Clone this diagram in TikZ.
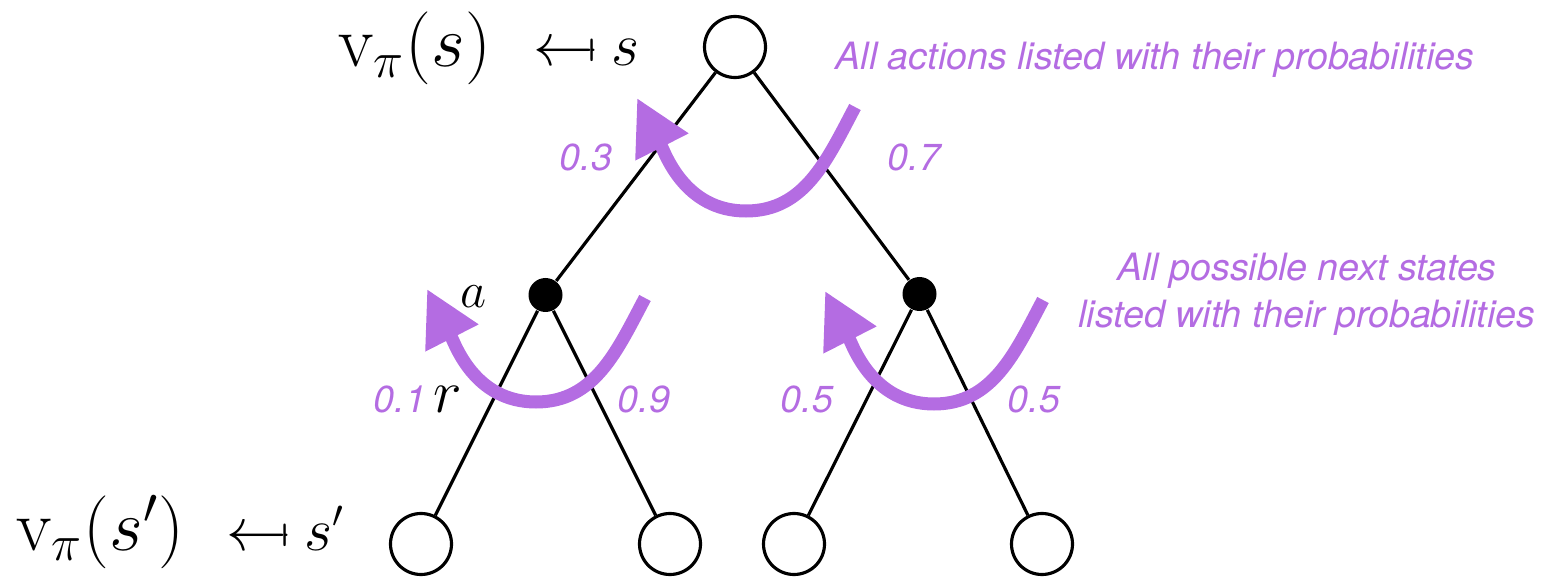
\documentclass[tikz,border=0pt]{standalone}
\usepackage{fontspec}
\usepackage{amsmath, amssymb}
\usetikzlibrary{arrows.meta}
\newfontfamily\notefont{TeX Gyre Heros}
\definecolor{notepurple}{RGB}{180,108,226}
\newcommand{\mapsback}{\mathrel{\leftarrow\mkern-2mu\mapstochar\mkern2mu}}

\begin{document}
\begin{tikzpicture}[
		state/.style = {draw, circle, line width=0.9pt, minimum size=0.61cm, inner sep=0pt},
		action/.style = {fill, circle, minimum size=0.34cm, inner sep=0pt},
		mathlbl/.style = {anchor=base west, inner sep=0pt},
		prob/.style = {text=notepurple, anchor=base, inner sep=0pt,
			font=\notefont\itshape\fontsize{10.7}{13.4}\selectfont},
		backup/.style = {draw=notepurple, line width=0.13cm,
			-{Triangle[length=0.55cm, width=0.56cm]}}
	]
	\useasboundingbox (0,0) rectangle (15.44,5.77);
	% tree
	\node[state] (s) at (7.35,5.30) {};
	\node[action] (a1) at (5.455,2.82) {};
	\node[action] (a2) at (9.195,2.83) {};
	\foreach \i/\x in {1/4.21, 2/6.70, 3/7.94, 4/10.42} {
		\node[state] (sp\i) at (\x,0.33) {};
	}
	\draw[line width=0.9pt] (s) -- (a1) (s) -- (a2)
		(a1) -- (sp1) (a1) -- (sp2) (a2) -- (sp3) (a2) -- (sp4);
	% math labels
	\node[mathlbl, font=\fontsize{20.7}{24}\selectfont] (vs) at (3.38,5.10) {$\mathrm{v}_\pi(s)$};
	\node[mathlbl, font=\fontsize{16}{19}\selectfont] (ms) at (5.33,5.11) {$\mapsback s$};
	\node[mathlbl, font=\fontsize{20.7}{24}\selectfont] (vsp) at (0.16,0.27) {$\mathrm{v}_\pi(s')$};
	\node[mathlbl, font=\fontsize{16}{19}\selectfont] (msp) at (2.26,0.27) {$\mapsback s'$};
	\node[mathlbl, font=\fontsize{15}{18}\selectfont] (la) at (4.60,2.70) {$a$};
	\node[mathlbl, font=\fontsize{17}{20}\selectfont] (lr) at (4.33,1.64) {$r$};
	% probabilities
	\node[prob] (p03) at (5.86,4.06) {0.3};
	\node[prob] (p07) at (9.14,4.06) {0.7};
	\node[prob] (p01) at (4.00,1.64) {0.1};
	\node[prob] (p09) at (6.44,1.64) {0.9};
	\node[prob] (p05a) at (8.07,1.64) {0.5};
	\node[prob] (p05b) at (10.34,1.64) {0.5};
	% notes
	\node[prob] (n1) at (11.55,5.07) {All actions listed with their probabilities};
	\node[prob, anchor=center, align=center] (n2) at (13.07,2.83)
		{All possible next states\\listed with their probabilities};
	% backup arrows
	\foreach \x/\y [count=\k] in {8.55/4.70, 6.45/2.79, 10.43/2.77} {
		\coordinate (b\k) at (\x,\y);
		\draw[backup] (b\k) to[out=-118, in=0] ++(-1.09,-1.04)
			to[out=180, in=-63] ++(-1.09,1.13);
	}
\end{tikzpicture}
\end{document}
